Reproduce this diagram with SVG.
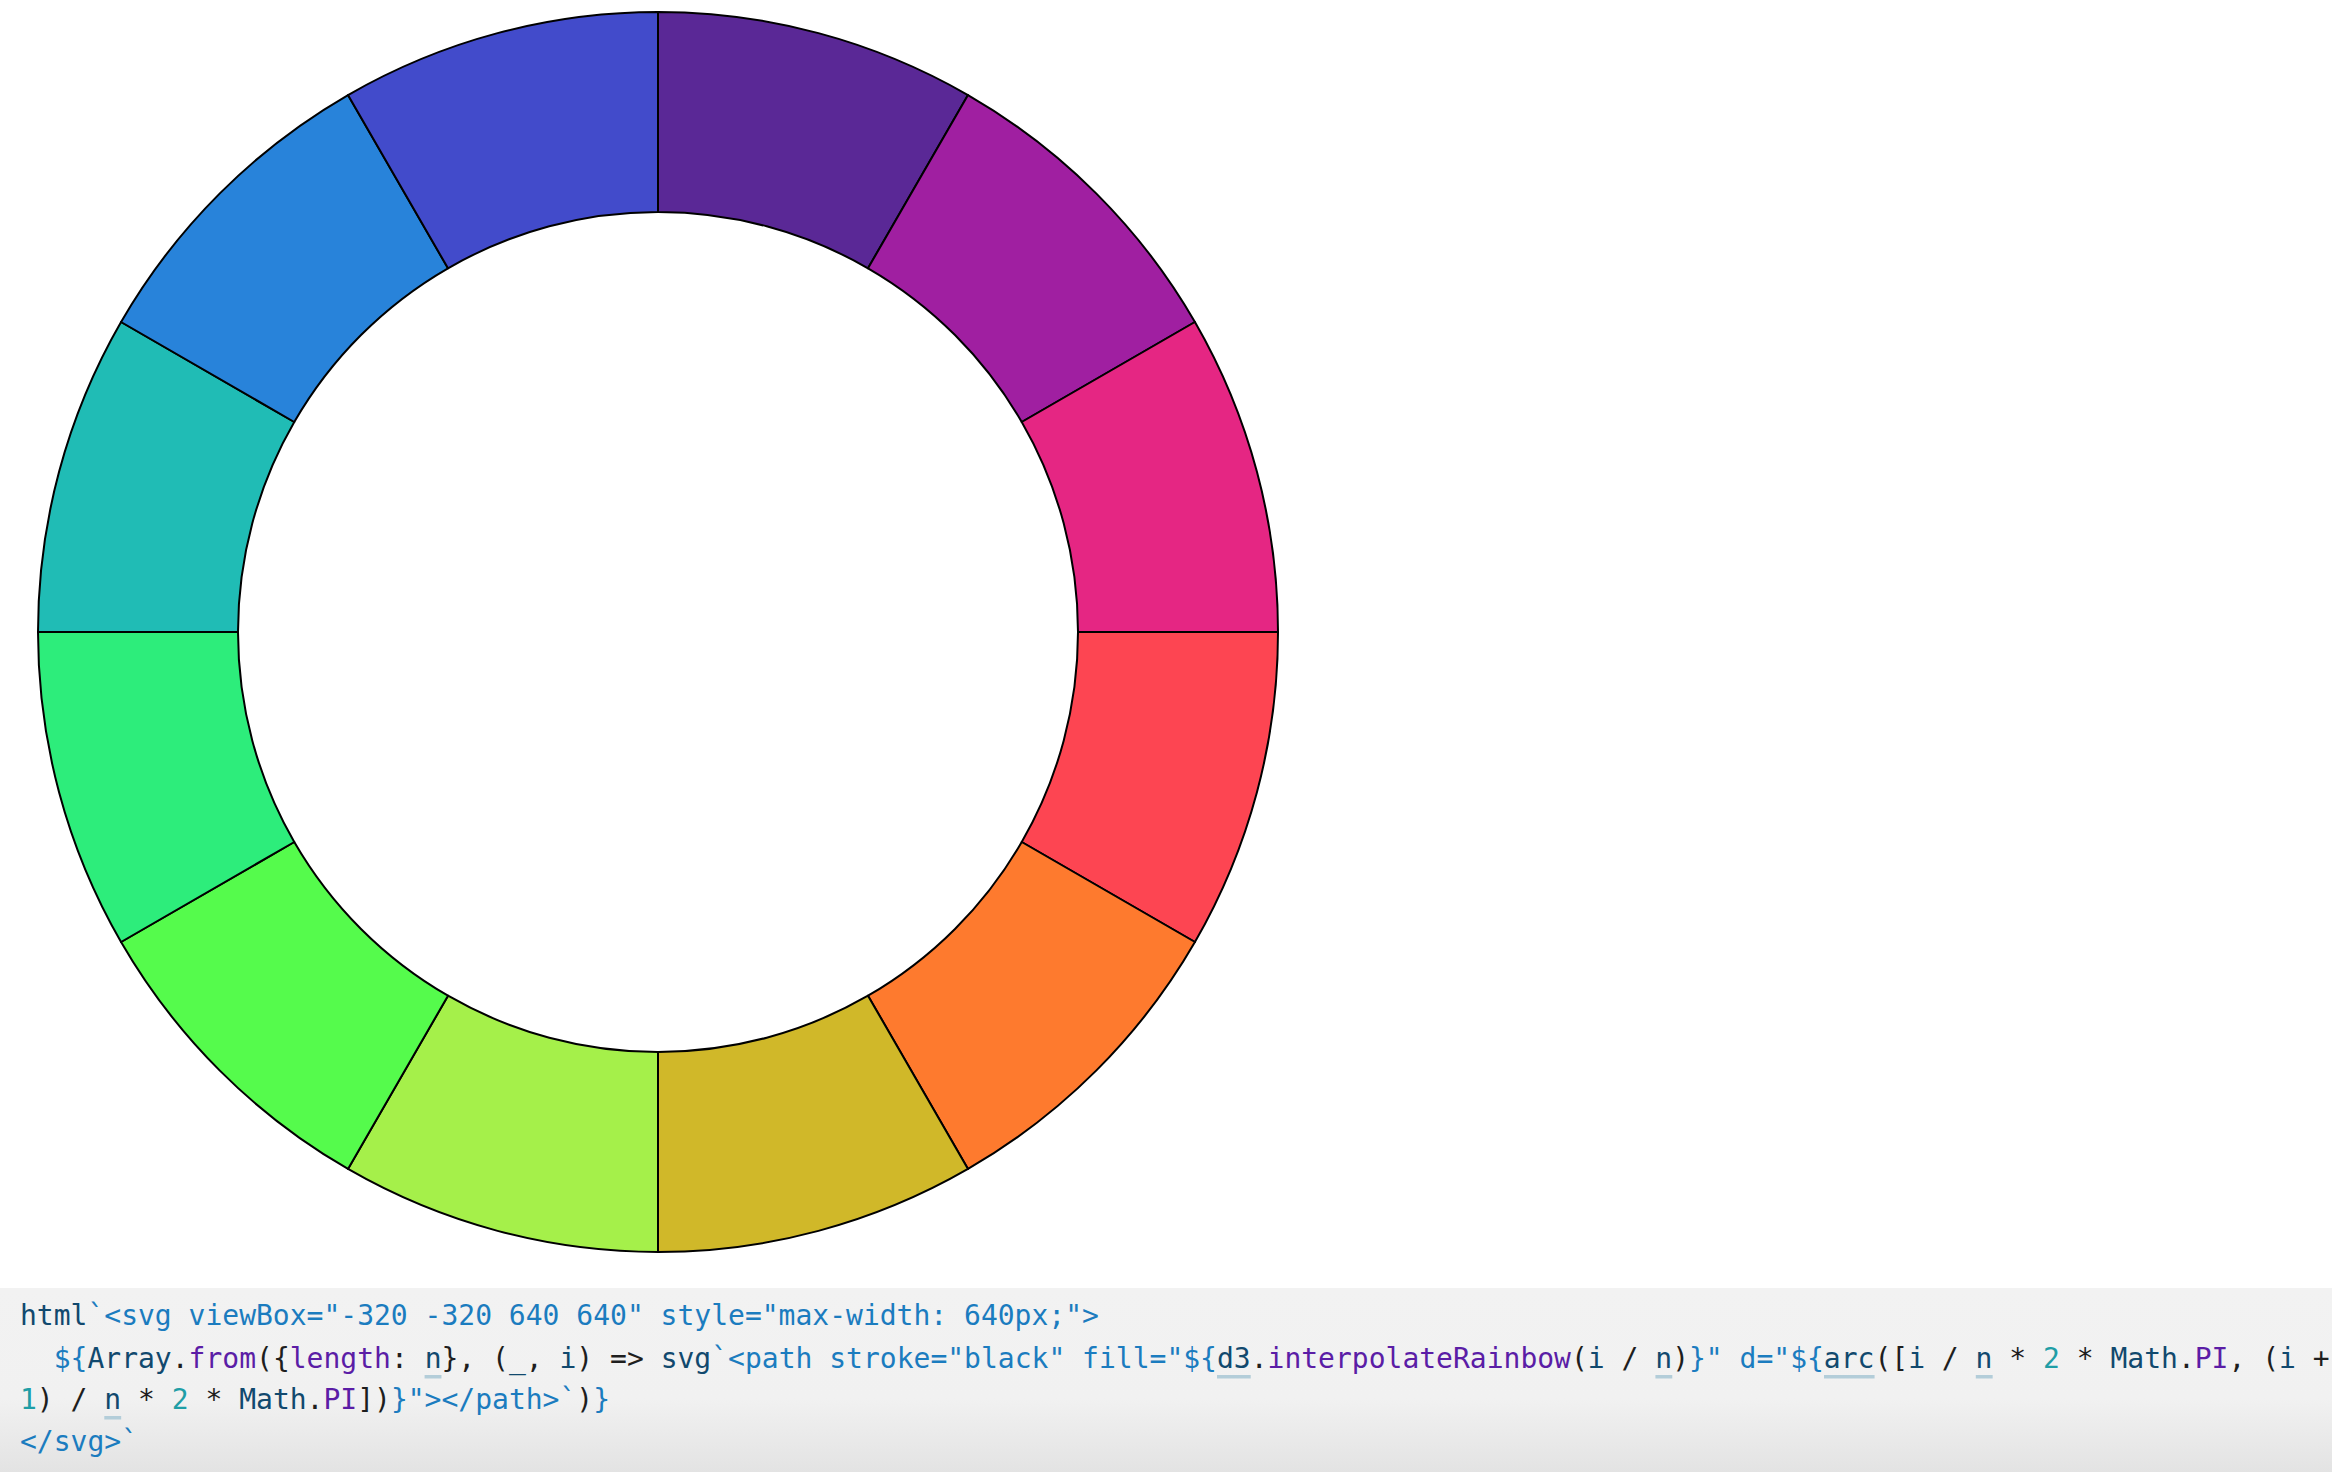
<svg xmlns="http://www.w3.org/2000/svg" width="2332" height="1472" viewBox="0 0 2332 1472">
<defs>
<linearGradient id="codebg" x1="0" y1="1288" x2="0" y2="1472" gradientUnits="userSpaceOnUse">
<stop offset="0" stop-color="#f2f2f2"/>
<stop offset="0.6" stop-color="#f1f1f1"/>
<stop offset="1" stop-color="#e3e3e3"/>
</linearGradient>
<style>
.seg{stroke:#000;stroke-width:2;stroke-linejoin:round}
.code{font-family:"DejaVu Sans Mono","Liberation Mono",monospace;font-size:28px;fill:#1e1e1e}
.v{fill:#11496e}
.s{fill:#1b7cbf}
.p{fill:#5b1da6}
.n{fill:#1f9ea6}
.o{fill:#1e1e1e}
.ul{fill:#b3cdd9}
</style>
</defs>
<rect x="0" y="0" width="2332" height="1472" fill="#ffffff"/>
<g id="ring" transform="translate(658,632)">
<path id="seg0" class="seg" fill="#5a2896" d="M0,-620A620,620 0 0 1 310,-536.94L210,-363.73A420,420 0 0 0 0,-420Z"/>
<path id="seg1" class="seg" fill="#a01fa1" d="M310,-536.94A620,620 0 0 1 536.94,-310L363.73,-210A420,420 0 0 0 210,-363.73Z"/>
<path id="seg2" class="seg" fill="#e52683" d="M536.94,-310A620,620 0 0 1 620,0L420,0A420,420 0 0 0 363.73,-210Z"/>
<path id="seg3" class="seg" fill="#fd4552" d="M620,0A620,620 0 0 1 536.94,310L363.73,210A420,420 0 0 0 420,0Z"/>
<path id="seg4" class="seg" fill="#fe7a2e" d="M536.94,310A620,620 0 0 1 310,536.94L210,363.73A420,420 0 0 0 363.73,210Z"/>
<path id="seg5" class="seg" fill="#d0b829" d="M310,536.94A620,620 0 0 1 0,620L0,420A420,420 0 0 0 210,363.73Z"/>
<path id="seg6" class="seg" fill="#a5f04a" d="M0,620A620,620 0 0 1 -310,536.94L-210,363.73A420,420 0 0 0 0,420Z"/>
<path id="seg7" class="seg" fill="#55fb4c" d="M-310,536.94A620,620 0 0 1 -536.94,310L-363.73,210A420,420 0 0 0 -210,363.73Z"/>
<path id="seg8" class="seg" fill="#2ded7b" d="M-536.94,310A620,620 0 0 1 -620,0L-420,0A420,420 0 0 0 -363.73,210Z"/>
<path id="seg9" class="seg" fill="#20bcb5" d="M-620,0A620,620 0 0 1 -536.94,-310L-363.73,-210A420,420 0 0 0 -420,0Z"/>
<path id="seg10" class="seg" fill="#2883da" d="M-536.94,-310A620,620 0 0 1 -310,-536.94L-210,-363.73A420,420 0 0 0 -363.73,-210Z"/>
<path id="seg11" class="seg" fill="#424bcb" d="M-310,-536.94A620,620 0 0 1 0,-620L0,-420A420,420 0 0 0 -210,-363.73Z"/>
</g>
<g id="code-panel">
<rect x="0" y="1288" width="2332" height="184" fill="url(#codebg)"/>
<g id="underlines">
<rect class="ul" x="424.6" y="1375" width="16.86" height="3.5"/>
<rect class="ul" x="1217" y="1375" width="33.72" height="3.5"/>
<rect class="ul" x="1655.4" y="1375" width="16.86" height="3.5"/>
<rect class="ul" x="1824" y="1375" width="50.58" height="3.5"/>
<rect class="ul" x="1975.8" y="1375" width="16.86" height="3.5"/>
<rect class="ul" x="104.3" y="1416" width="16.86" height="3.5"/>
</g>
<text class="code" xml:space="preserve" x="20" y="1325"><tspan class="v">html</tspan><tspan class="s">`&lt;svg viewBox="-320 -320 640 640" style="max-width: 640px;"&gt;</tspan></text>
<text class="code" xml:space="preserve" x="20" y="1368">  <tspan class="s">${</tspan><tspan class="v">Array</tspan><tspan class="o">.</tspan><tspan class="p">from</tspan><tspan class="o">({</tspan><tspan class="p">length</tspan><tspan class="o">: </tspan><tspan class="v">n</tspan><tspan class="o">}, (</tspan><tspan class="v">_</tspan><tspan class="o">, </tspan><tspan class="v">i</tspan><tspan class="o">) =&gt; </tspan><tspan class="v">svg</tspan><tspan class="s">`&lt;path stroke="black" fill="${</tspan><tspan class="v">d3</tspan><tspan class="o">.</tspan><tspan class="p">interpolateRainbow</tspan><tspan class="o">(</tspan><tspan class="v">i</tspan><tspan class="o"> / </tspan><tspan class="v">n</tspan><tspan class="o">)</tspan><tspan class="s">}" d="${</tspan><tspan class="v">arc</tspan><tspan class="o">([</tspan><tspan class="v">i</tspan><tspan class="o"> / </tspan><tspan class="v">n</tspan><tspan class="o"> * </tspan><tspan class="n">2</tspan><tspan class="o"> * </tspan><tspan class="v">Math</tspan><tspan class="o">.</tspan><tspan class="p">PI</tspan><tspan class="o">, (</tspan><tspan class="v">i</tspan><tspan class="o"> +</tspan></text>
<text class="code" xml:space="preserve" x="20" y="1409"><tspan class="n">1</tspan><tspan class="o">) / </tspan><tspan class="v">n</tspan><tspan class="o"> * </tspan><tspan class="n">2</tspan><tspan class="o"> * </tspan><tspan class="v">Math</tspan><tspan class="o">.</tspan><tspan class="p">PI</tspan><tspan class="o">])</tspan><tspan class="s">}"&gt;&lt;/path&gt;`</tspan><tspan class="o">)</tspan><tspan class="s">}</tspan></text>
<text class="code" xml:space="preserve" x="20" y="1451"><tspan class="s">&lt;/svg&gt;`</tspan></text>
</g>
</svg>
